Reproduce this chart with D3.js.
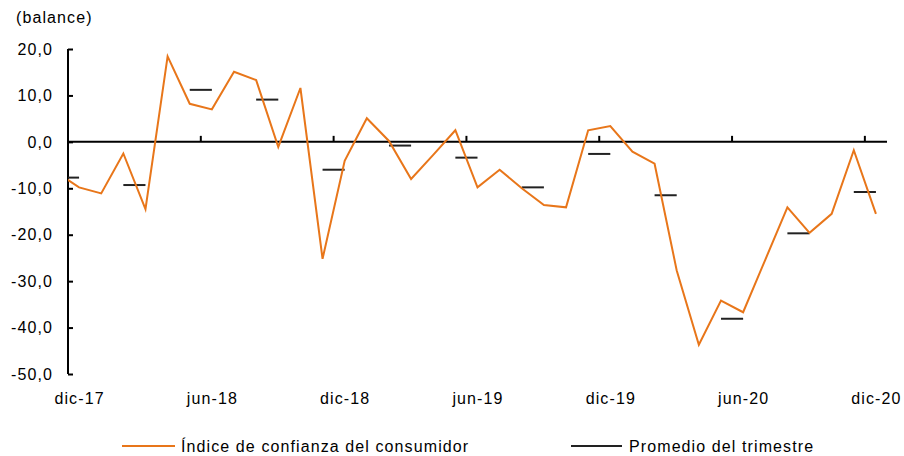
<!DOCTYPE html>
<html>
<head>
<meta charset="utf-8">
<script src="https://cdn.jsdelivr.net/npm/d3@7"></script>
<style>
  body { margin: 0; background: #fff; }
  text { font-family: "Liberation Sans", Arial, sans-serif; fill: #000; font-size: 16px; letter-spacing: 1.1px; }
</style>
</head>
<body>
<svg id="chart" width="904" height="456"></svg>
<script>
// months from nov-17 (only partly visible, clipped at the axis) to dic-20
const months = ["nov-17","dic-17","ene-18","feb-18","mar-18","abr-18","may-18","jun-18","jul-18","ago-18","sep-18","oct-18","nov-18",
  "dic-18","ene-19","feb-19","mar-19","abr-19","may-19","jun-19","jul-19","ago-19","sep-19","oct-19","nov-19",
  "dic-19","ene-20","feb-20","mar-20","abr-20","may-20","jun-20","jul-20","ago-20","sep-20","oct-20","nov-20","dic-20"];

const confianza = [-6.6, -9.8, -11.1, -2.5, -14.5, 18.4, 8.2, 7.0, 15.1, 13.3, -1.1, 11.6, -25.2,
  -4.1, 5.1, 0.2, -8.0, -2.8, 2.5, -9.8, -6.0, -10.0, -13.6, -14.1, 2.5,
  3.4, -2.1, -4.7, -27.7, -43.7, -34.2, -36.7, -25.4, -14.1, -19.6, -15.5, -1.8, -15.5];

// quarter-end months and their quarterly average
const quarterEnds = ["dic-17","mar-18","jun-18","sep-18","dic-18","mar-19","jun-19","sep-19","dic-19","mar-20","jun-20","sep-20","dic-20"];
const promedio = [-7.7, -9.3, 11.2, 9.1, -6.0, -0.8, -3.4, -9.8, -2.6, -11.5, -38.1, -19.7, -10.8];

const tickMonths = ["dic-17","jun-18","dic-18","jun-19","dic-19","jun-20","dic-20"];
const yTicks = [20, 10, 0, -10, -20, -30, -40, -50];

const plotLeft = 68, plotRight = 887, plotTop = 49, plotBottom = 374;

const svg = d3.select("#chart");

const step = (plotRight - plotLeft) / (months.length - 1); // 37 visible bands
const x = d3.scaleBand().domain(months).range([plotLeft - step, plotRight]).padding(0);
const cx = m => x(m) + x.bandwidth() / 2;

const y = d3.scaleLinear().domain([-50, 20]).range([plotBottom, plotTop]);

const fmt = v => d3.format(".1f")(v).replace(".", ",").replace("−", "-");

// clip for the plot area
svg.append("defs").append("clipPath").attr("id", "plot")
  .append("rect").attr("x", plotLeft).attr("y", 0).attr("width", plotRight - plotLeft).attr("height", 456);

// y axis
const yAxis = svg.append("g").attr("transform", `translate(${plotLeft},0)`)
  .call(d3.axisRight(y).tickValues(yTicks).tickSize(5).tickFormat(""));
yAxis.select(".domain").attr("stroke", "#000").attr("stroke-width", 2).attr("d", `M0,${plotTop}V${plotBottom}`);
yAxis.selectAll(".tick line").attr("stroke", "#000").attr("stroke-width", 2);

svg.append("g").selectAll("text").data(yTicks).enter().append("text")
  .attr("x", 53).attr("y", d => y(d)).attr("dy", "0.36em")
  .attr("text-anchor", "end")
  .text(fmt);

svg.append("text").attr("x", 16).attr("y", 23).text("(balance)");

// x axis at zero
svg.append("line").attr("x1", plotLeft).attr("x2", plotRight).attr("y1", y(0)).attr("y2", y(0))
  .attr("stroke", "#000").attr("stroke-width", 2);
svg.append("g").selectAll("line").data(tickMonths).enter().append("line")
  .attr("x1", d => x(d)).attr("x2", d => x(d))
  .attr("y1", y(0)).attr("y2", y(0) - 6)
  .attr("stroke", "#000").attr("stroke-width", 2);
svg.append("g").selectAll("text").data(tickMonths).enter().append("text")
  .attr("x", d => cx(d) + 0.5).attr("y", 404)
  .attr("text-anchor", "middle")
  .text(d => d);

const plot = svg.append("g").attr("clip-path", "url(#plot)");

// quarterly averages: short dash from previous month to quarter-end month
plot.selectAll(".dash").data(quarterEnds).enter().append("line")
  .attr("class", "dash")
  .attr("x1", d => cx(months[months.indexOf(d) - 1]))
  .attr("x2", d => cx(d))
  .attr("y1", (d, i) => y(promedio[i])).attr("y2", (d, i) => y(promedio[i]))
  .attr("stroke", "#222").attr("stroke-width", 2);

// monthly index
const line = d3.line().x((d, i) => cx(months[i])).y(d => y(d));
plot.append("path").datum(confianza)
  .attr("d", line).attr("fill", "none")
  .attr("stroke", "#e8761a").attr("stroke-width", 2).attr("stroke-linejoin", "miter");

// legend
const lg = svg.append("g");
lg.append("line").attr("x1", 122).attr("x2", 175).attr("y1", 446).attr("y2", 446)
  .attr("stroke", "#e8761a").attr("stroke-width", 2);
lg.append("text").attr("x", 181).attr("y", 452)
  .text("Índice de confianza del consumidor");
lg.append("line").attr("x1", 571).attr("x2", 622).attr("y1", 446).attr("y2", 446)
  .attr("stroke", "#222").attr("stroke-width", 2);
lg.append("text").attr("x", 629).attr("y", 452)
  .text("Promedio del trimestre");
</script>
</body>
</html>
